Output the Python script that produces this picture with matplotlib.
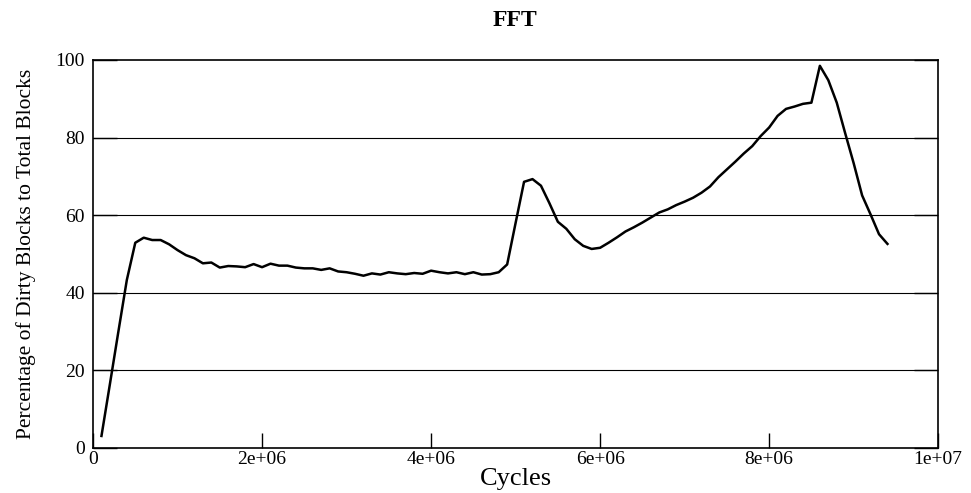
import numpy as np
import matplotlib.pyplot as plt

plt.rcParams['font.family'] = ['Liberation Serif', 'DejaVu Serif']

# dirty block percentage, sampled every 1e5 cycles
cycles = np.arange(1, 95) * 1e5
dirty_pct = [
    3.1, 16.5, 30.0, 43.3, 52.9, 54.2, 53.6, 53.6, 52.5, 51.0,
    49.7, 48.9, 47.6, 47.8, 46.5, 46.9, 46.8, 46.6, 47.4, 46.6,
    47.5, 47.0, 47.0, 46.5, 46.3, 46.3, 45.9, 46.3, 45.5, 45.3,
    44.9, 44.4, 45.0, 44.7, 45.3, 45.0, 44.8, 45.1, 44.9, 45.7,
    45.3, 45.0, 45.3, 44.8, 45.3, 44.7, 44.8, 45.3, 47.3, 58.0,
    68.6, 69.3, 67.6, 63.1, 58.3, 56.5, 53.8, 52.1, 51.3, 51.6,
    52.9, 54.3, 55.8, 56.9, 58.1, 59.4, 60.7, 61.5, 62.6, 63.5,
    64.5, 65.8, 67.4, 69.8, 71.8, 73.8, 75.9, 77.8, 80.4, 82.6,
    85.6, 87.4, 88.0, 88.7, 89.0, 98.5, 94.8, 89.0, 81.1, 73.4,
    65.1, 60.2, 55.1, 52.6,
]

x_ticks = [0, 2e6, 4e6, 6e6, 8e6, 1e7]
x_ticklabels = ['0', '2e+06', '4e+06', '6e+06', '8e+06', '1e+07']
y_ticks = [0, 20, 40, 60, 80, 100]

fig = plt.figure(figsize=(9.71, 4.93), dpi=100)
ax = fig.add_axes([0.0958, 0.0913, 0.8704, 0.7870])

for y in y_ticks[1:-1]:
    ax.axhline(y, color='black', lw=0.8, zorder=1)

ax.plot(cycles, dirty_pct, color='black', lw=1.8, zorder=3)

ax.set_xlim(0, 1e7)
ax.set_ylim(0, 100)
ax.set_xticks(x_ticks)
ax.set_xticklabels(x_ticklabels)
ax.set_yticks(y_ticks)
ax.tick_params(axis='x', direction='in', length=11, width=1, labelsize=14, pad=2)
ax.tick_params(axis='y', direction='in', length=17, width=1, labelsize=14, pad=6,
               right=True)
for s in ax.spines.values():
    s.set_linewidth(1.2)

ax.set_xlabel('Cycles', fontsize=19, labelpad=0)
ax.set_ylabel('Percentage of Dirty Blocks to Total Blocks', fontsize=15.5, labelpad=14)
fig.text(0.5308, 0.958, 'FFT', ha='center', va='center', fontsize=17, fontweight='bold')

fig.savefig('out.png', dpi=100)
